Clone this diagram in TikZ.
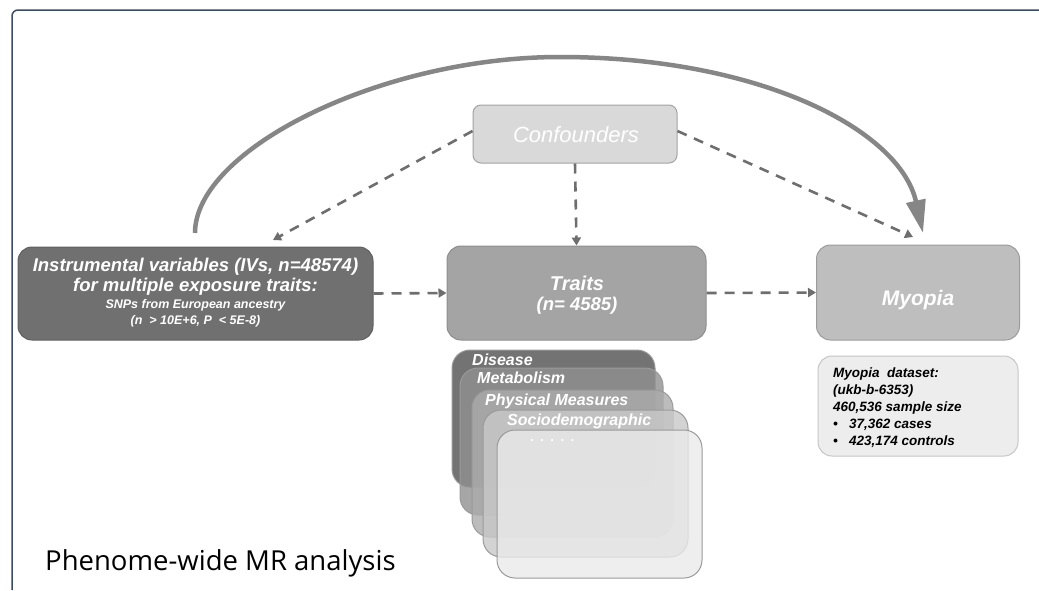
\documentclass[tikz,border=0pt]{standalone}
\usepackage{fontspec}
\setmainfont{Liberation Sans}
\newfontfamily\titlefont{Open Sans}
\usetikzlibrary{arrows.meta}
\definecolor{framec}{HTML}{3B4A66}
\definecolor{ivfill}{HTML}{707070}
\definecolor{ivdraw}{HTML}{606060}
\definecolor{trfill}{HTML}{A4A4A4}
\definecolor{trdraw}{HTML}{8E8E8E}
\definecolor{myfill}{HTML}{BEBEBE}
\definecolor{mydraw}{HTML}{9C9C9C}
\definecolor{cofill}{HTML}{D9D9D9}
\definecolor{codraw}{HTML}{A3A3A3}
\definecolor{dsfill}{HTML}{EDEDED}
\definecolor{dsdraw}{HTML}{C6C6C6}
\definecolor{arrc}{HTML}{6E6E6E}
\definecolor{bigc}{HTML}{868686}
\definecolor{stA}{HTML}{737373}
\definecolor{stB}{HTML}{909090}
\definecolor{stC}{HTML}{ACACAC}
\definecolor{stD}{HTML}{C8C8C8}
\definecolor{stE}{HTML}{EAEAEA}
\definecolor{stdraw}{HTML}{9A9A9A}
\tikzset{
  mainbox/.style={rectangle, rounded corners=14pt, line width=1pt, inner sep=0pt},
  wtxt/.style={anchor=base, inner sep=0pt, text=white, font=\bfseries\itshape},
  dasharrow/.style={draw=arrc, line width=2.6pt, dash pattern=on 10pt off 8pt, -{Triangle[length=8pt,width=9pt]}},
  bigarrow/.style={draw=bigc, line width=4.5pt, -{Triangle[length=33pt,width=19pt]}},
  stackbox/.style={draw=stdraw, line width=1pt, rounded corners=18pt, fill opacity=0.8},
  stacktxt/.style={anchor=base west, inner sep=0pt, text=white, font=\bfseries\itshape\fontsize{16}{18}\selectfont},
  dstxt/.style={anchor=base west, inner sep=0pt, font=\bfseries\itshape\fontsize{13.5}{16}\selectfont},
}
\begin{document}
\begin{tikzpicture}[x=1pt,y=-1pt]
\useasboundingbox (0,0) rectangle (1039,590);
\fill[white] (0,0) rectangle (1039,590);
\draw[framec, line width=1.5pt, rounded corners=6pt] (12,590) -- (12,10) -- (1039,10);

% main boxes
\node[mainbox, fill=ivfill, draw=ivdraw, minimum width=355pt, minimum height=93pt] (iv) at (195.5,293.5) {};
\node[wtxt, font=\bfseries\itshape\fontsize{18.5}{20}\selectfont] (iv1) at (195.5,271) {Instrumental variables (IVs, n=48574)};
\node[wtxt, font=\bfseries\itshape\fontsize{18.5}{20}\selectfont] (iv2) at (195.5,291.5) {for multiple exposure traits:};
\node[wtxt, font=\bfseries\itshape\fontsize{12.5}{14}\selectfont] (iv3) at (195.5,308) {SNPs from European ancestry};
\node[wtxt, font=\bfseries\itshape\fontsize{12.5}{14}\selectfont] (iv4) at (195.5,324.5) {(n \ > 10E+6, P \ < 5E-8)};

\node[mainbox, fill=trfill, draw=trdraw, minimum width=259pt, minimum height=94pt] (traits) at (576.5,293) {};
\node[wtxt, font=\bfseries\itshape\fontsize{20}{22}\selectfont] (tr1) at (577,290) {Traits};
\node[wtxt, font=\bfseries\itshape\fontsize{18.5}{20}\selectfont] (tr2) at (577,310.5) {(n= 4585)};

\node[mainbox, fill=myfill, draw=mydraw, minimum width=203pt, minimum height=95pt] (myopia) at (918,292.5) {};
\node[wtxt, font=\bfseries\itshape\fontsize{21}{22}\selectfont] (my1) at (918,305) {Myopia};

\node[mainbox, rounded corners=8pt, fill=cofill, draw=codraw, minimum width=204pt, minimum height=58pt] (conf) at (575,134) {};
\node[wtxt, font=\itshape\fontsize{22}{24}\selectfont] (co1) at (576,142) {Confounders};

% dataset box
\node[mainbox, fill=dsfill, draw=dsdraw, minimum width=200pt, minimum height=100pt] (ds) at (918,406) {};
\node[dstxt] (ds1) at (833,377) {Myopia \ dataset:};
\node[dstxt] (ds2) at (833,394) {(ukb-b-6353)};
\node[dstxt] (ds3) at (833,411) {460,536 sample size};
\node[dstxt] (ds4) at (833,428) {\makebox[16pt][l]{\textbullet}37,362 cases};
\node[dstxt] (ds5) at (833,445) {\makebox[16pt][l]{\textbullet}423,174 controls};

% stacked category boxes
\draw[stackbox, fill=stA, fill opacity=1] (452,350) rectangle (655,487);
\draw[stackbox, fill=stB] (460,368) rectangle (663,515);
\draw[stackbox, fill=stC] (472,390) rectangle (673,537);
\draw[stackbox, fill=stD] (483,410) rectangle (688,557);
\draw[stackbox, fill=stE] (497,430) rectangle (702,578);
\node[stacktxt] (disease) at (472,365) {Disease};
\node[stacktxt] (metab) at (477,383) {Metabolism};
\node[stacktxt] (phys) at (485,405) {Physical Measures};
\node[stacktxt] (socio) at (507,425) {Sociodemographic};
\node[stacktxt, font=\bfseries\fontsize{13}{13}\selectfont] (dots) at (530,441) {.\,\,\,.\,\,\,.\,\,\,.\,\,\,.};

% title
\node[anchor=base west, inner sep=0pt, font=\titlefont\fontsize{27.5}{30}\selectfont] (title) at (45,570) {Phenome-wide MR analysis};

% connectors
\coordinate (ivtip) at (273,240);
\coordinate (mytip) at (913,237);
\coordinate (cstart) at (195,233);
\coordinate (ctop) at (560,57);
\coordinate (cend) at (923,233);
\draw[dasharrow] (iv.east) -- (traits.west);
\draw[dasharrow] (traits.east) -- (myopia.west);
\draw[dasharrow] (conf.south) -- (traits.north);
\draw[dasharrow] ([yshift=3pt]conf.west) -- (ivtip);
\draw[dasharrow] ([yshift=3pt]conf.east) -- (mytip);
\draw[bigarrow] (cstart) .. controls (195,150) and (380,57) .. (ctop)
  .. controls (760,57) and (900,130) .. (cend);
\end{tikzpicture}
\end{document}
